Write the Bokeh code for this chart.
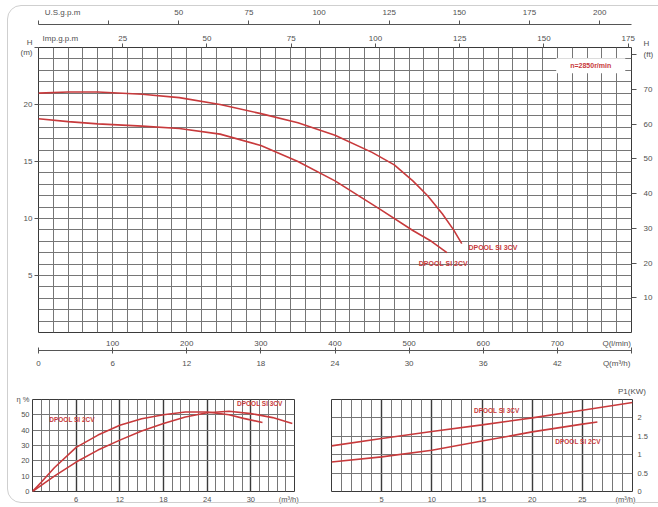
from bokeh.plotting import figure
from bokeh.models import Range1d, LinearAxis, FixedTicker, Label, InlineStyleSheet
from bokeh.layouts import column, row
from bokeh.embed import file_html
from bokeh.resources import INLINE

# ---------------- data ----------------
# H-Q curves, Q in l/min, H in m
q_3cv = [0, 40, 80, 140, 190, 245, 300, 350, 400, 450, 480, 505, 525, 545, 560, 571]
h_3cv = [21.0, 21.1, 21.1, 20.9, 20.6, 20.0, 19.2, 18.4, 17.3, 15.8, 14.7, 13.3, 12.0, 10.4, 9.0, 7.8]
q_2cv = [0, 40, 80, 140, 190, 245, 300, 350, 400, 461, 505, 530, 551]
h_2cv = [18.75, 18.5, 18.3, 18.1, 17.9, 17.4, 16.4, 15.0, 13.3, 10.8, 8.95, 8.0, 7.0]

# efficiency curves, Q in m3/h, eta in %
qe_2cv = [0, 1.2, 3, 6, 9, 12, 15, 18, 21, 24, 27, 29, 31.6]
eff_2cv = [0, 6, 15.5, 28.8, 36.8, 43.2, 47.5, 50.1, 51.8, 51.8, 50.1, 47.7, 45.0]
qe_3cv = [0, 1.2, 3, 6, 9, 12, 15, 18, 21, 24, 27, 30, 33, 35.7]
eff_3cv = [0, 4, 10, 19.2, 27, 33.5, 39.5, 44.3, 48.6, 51.4, 52.3, 50.8, 48.2, 44.3]

# power curves, Q in m3/h, P1 in kW
qp_3cv = [0, 5, 10, 15, 20, 25, 30]
p1_3cv = [1.24, 1.44, 1.63, 1.81, 2.0, 2.21, 2.42]
qp_2cv = [0, 5, 10, 15, 20, 25, 26.5]
p1_2cv = [0.80, 0.94, 1.12, 1.37, 1.62, 1.83, 1.89]

# tick labels (value -> text)
lmin_labels = {100: "100", 200: "200", 300: "300", 400: "400", 500: "500",
               600: "600", 700: "700", 780: "Q(l/min)"}
m3h_labels = {0: "0", 6: "6", 12: "12", 18: "18", 24: "24", 30: "30", 36: "36",
              42: "42", 46.8: "Q(m³/h)"}
m3h_marks = [0, 6, 12, 18, 24, 30, 36, 42, 48]
usgpm_labels = {8.56: "U.S.g.p.m", 50: "50", 75: "75", 100: "100", 125: "125",
                150: "150", 175: "175", 200: "200"}
usgpm_marks = [0, 25, 50, 75, 100, 125, 150, 175, 200]
impgpm_labels = {6.5: "Imp.g.p.m", 25: "25", 50: "50", 75: "75", 100: "100",
                 125: "125", 150: "150", 175: "175"}
impgpm_marks = [25, 50, 75, 100, 125, 150, 175]
hm_labels = {5: "5", 10: "10", 15: "15", 20: "20", 25: "H\n(m)"}
hft_labels = {10: "10", 20: "20", 30: "30", 40: "40", 50: "50", 60: "60",
              70: "70", 81.5: "H\n(ft)"}
hft_marks = [10, 20, 30, 40, 50, 60, 70, 80]
eff_x_labels = {6: "6", 12: "12", 18: "18", 24: "24", 30: "30", 35.2: "(m³/h)"}
eff_y_labels = {0: "0", 10: "10", 20: "20", 30: "30", 40: "40", 50: "50", 60: "η %"}
pw_x_labels = {5: "5", 10: "10", 15: "15", 20: "20", 25: "25", 29.3: "(m³/h)"}
pw_y_labels = {0: "0", 0.5: "0.5", 1: "1", 1.5: "1.5", 2: "2"}
pw_title_labels = {29.95: "P1(KW)"}

# grid steps
main_vgrid = list(range(0, 801, 20))
main_hgrid = list(range(0, 26))
eff_vgrid_major = list(range(0, 37, 6))
eff_vgrid_minor = [round(i * 1.2, 2) for i in range(31)]
eff_hgrid = list(range(0, 61, 10))
pw_vgrid_major = list(range(0, 31, 5))
pw_vgrid_minor = list(range(0, 31))
pw_hgrid = [0, 0.5, 1, 1.5, 2, 2.5]

FONT = "Liberation Sans"
TXT = "#505050"
RED = "#c83a3c"
GRID = "#767676"
DARK = "#3a3a3a"


def style_axis(ax, labels, marks=None, size="8px", tick_out=0, tick_in=0,
               line=None, standoff=3):
    ticks = list(labels.keys())
    ax.ticker = FixedTicker(ticks=ticks, minor_ticks=marks or [])
    ax.major_label_overrides = {k: v for k, v in labels.items()}
    ax.major_label_text_font = FONT
    ax.major_label_text_font_size = size
    ax.major_label_text_color = TXT
    ax.axis_line_color = line
    ax.major_tick_line_color = None
    ax.major_tick_in = 0
    ax.major_tick_out = 0
    ax.minor_tick_line_color = "#555555" if marks else None
    ax.minor_tick_in = tick_in
    ax.minor_tick_out = tick_out
    ax.major_label_standoff = standoff


def lab(fig, x, y, text, align="left", size="7px", color=RED, bold=True, **kw):
    fig.add_layout(Label(x=x, y=y, text=text, text_align=align,
                         text_baseline="middle", text_font=FONT,
                         text_font_size=size, text_color=color,
                         text_font_style="bold" if bold else "normal", **kw))


# ---------------- main H-Q chart ----------------
p = figure(width=658, height=375, x_range=Range1d(0, 800), y_range=Range1d(0, 25),
           output_backend="svg", toolbar_location=None,
           min_border_left=38, min_border_right=27, min_border_top=47,
           min_border_bottom=43)
p.extra_x_ranges = {"us": Range1d(0, 800 * 0.264172),
                    "imp": Range1d(0, 800 * 0.219969),
                    "m3h": Range1d(0, 48)}
p.extra_y_ranges = {"ft": Range1d(0, 25 * 3.28084)}
p.outline_line_color = DARK

style_axis(p.xaxis[0], lmin_labels, standoff=6)
style_axis(p.yaxis[0], hm_labels, marks=list(hm_labels.keys()), tick_out=4, standoff=2)

ax_m3h = LinearAxis(x_range_name="m3h")
style_axis(ax_m3h, m3h_labels, marks=m3h_marks, tick_in=3, tick_out=3,
           line="#555555", standoff=5)
p.add_layout(ax_m3h, "below")

ax_imp = LinearAxis(x_range_name="imp", axis_label=" ",
                    axis_label_text_font_size="3px", axis_label_standoff=0)
style_axis(ax_imp, impgpm_labels, marks=impgpm_marks, tick_out=4, standoff=1)
p.add_layout(ax_imp, "above")

ax_us = LinearAxis(x_range_name="us")
style_axis(ax_us, usgpm_labels, marks=usgpm_marks, tick_out=4,
           line="#555555", standoff=4)
p.add_layout(ax_us, "above")

ax_ft = LinearAxis(y_range_name="ft")
style_axis(ax_ft, hft_labels, marks=hft_marks, tick_out=5, standoff=7)
p.add_layout(ax_ft, "right")

p.xgrid.ticker = FixedTicker(ticks=main_vgrid)
p.ygrid.ticker = FixedTicker(ticks=main_hgrid)
for g in (p.xgrid[0], p.ygrid[0]):
    g.grid_line_color = GRID
    g.grid_line_width = 1

p.line(q_3cv, h_3cv, line_color=RED, line_width=1.6)
p.line(q_2cv, h_2cv, line_color=RED, line_width=1.6)

lab(p, 580, 7.5, "DPOOL SI 3CV")
lab(p, 513, 6.05, "DPOOL SI 2CV")
lab(p, 745, 23.4, "n=2850r/min", align="center",
    background_fill_color="white", padding=(14, 4))

# ---------------- efficiency chart ----------------
e = figure(width=325, height=132, x_range=Range1d(0, 36), y_range=Range1d(0, 60),
           output_backend="svg", toolbar_location=None,
           min_border_left=32, min_border_right=31, min_border_top=24,
           min_border_bottom=16)
e.outline_line_color = DARK
style_axis(e.xaxis[0], eff_x_labels, size="7.5px", standoff=3)
style_axis(e.yaxis[0], eff_y_labels, size="7.5px", standoff=3)
e.xgrid.ticker = FixedTicker(ticks=eff_vgrid_major, minor_ticks=eff_vgrid_minor)
e.xgrid.grid_line_color = DARK
e.xgrid.grid_line_width = 1.4
e.xgrid.minor_grid_line_color = GRID
e.ygrid.ticker = FixedTicker(ticks=eff_hgrid)
e.ygrid.grid_line_color = GRID
e.line(qe_2cv, eff_2cv, line_color=RED, line_width=1.6)
e.line(qe_3cv, eff_3cv, line_color=RED, line_width=1.6)
lab(e, 2.3, 47, "DPOOL SI 2CV", size="6.5px")
lab(e, 28.1, 57.4, "DPOOL SI 3CV", size="6.5px")

# ---------------- power chart ----------------
w = figure(width=333, height=132, x_range=Range1d(0, 30), y_range=Range1d(0, 2.5),
           output_backend="svg", toolbar_location=None, y_axis_location="right",
           min_border_left=6, min_border_right=26, min_border_top=24,
           min_border_bottom=16)
w.outline_line_color = DARK
style_axis(w.xaxis[0], pw_x_labels, size="7.5px", standoff=3)
style_axis(w.yaxis[0], pw_y_labels, size="7.5px", standoff=5)
ax_p1 = LinearAxis()
style_axis(ax_p1, pw_title_labels, size="8px", standoff=4)
w.add_layout(ax_p1, "above")
w.xgrid.ticker = FixedTicker(ticks=pw_vgrid_major, minor_ticks=pw_vgrid_minor)
w.xgrid.grid_line_color = DARK
w.xgrid.grid_line_width = 1.4
w.xgrid.minor_grid_line_color = GRID
w.ygrid.ticker = FixedTicker(ticks=pw_hgrid)
w.ygrid.grid_line_color = GRID
w.line(qp_3cv, p1_3cv, line_color=RED, line_width=1.6)
w.line(qp_2cv, p1_2cv, line_color=RED, line_width=1.6)
lab(w, 14.2, 2.2, "DPOOL SI 3CV", size="6.5px")
lab(w, 22.3, 1.37, "DPOOL SI 2CV", size="6.5px")

frame_css = InlineStyleSheet(css="""
:host::after {
  content: ""; position: absolute; left: 7px; top: 5px; width: 720px; height: 498px;
  border: 1.5px solid #cfcfcf; border-radius: 14px; pointer-events: none;
  box-sizing: border-box;
}
""")

layout = column(p, row(e, w), stylesheets=[frame_css])
open("out.html", "w").write(file_html(layout, INLINE))
